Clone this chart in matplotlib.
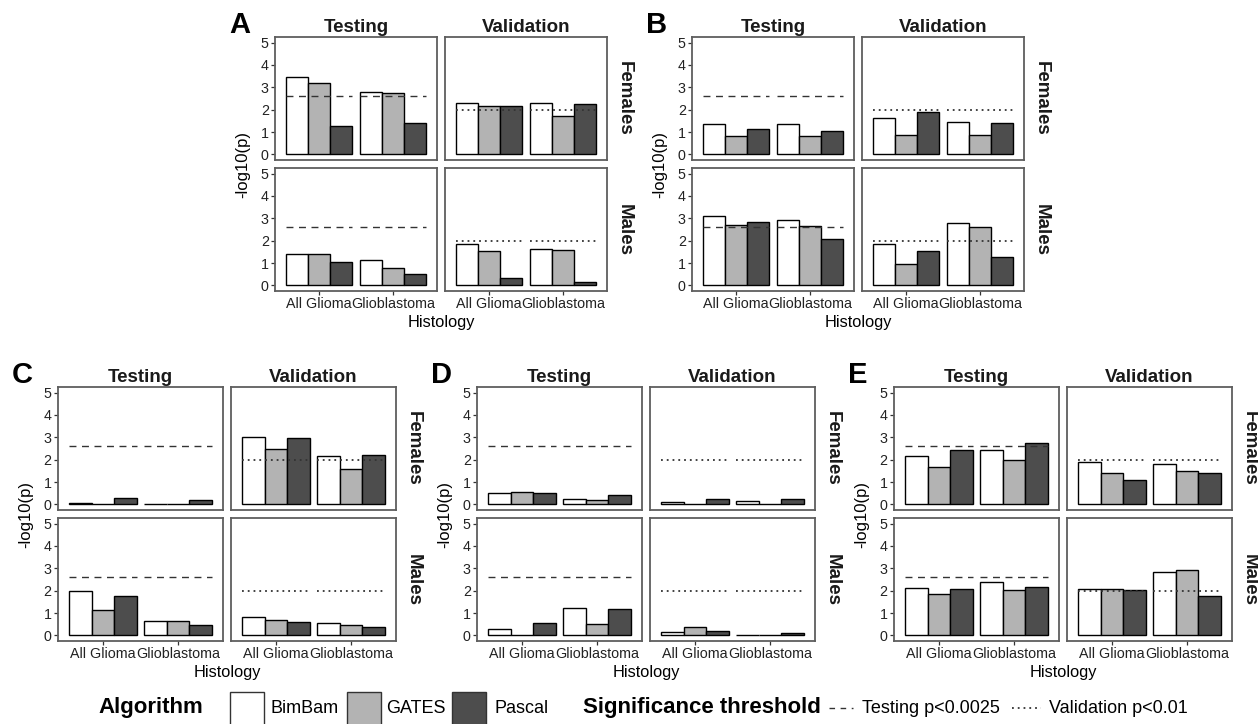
import matplotlib
matplotlib.use("Agg")
import matplotlib.pyplot as plt
from matplotlib.patches import Rectangle
from matplotlib.lines import Line2D
import numpy as np

plt.rcParams["font.family"] = ["Liberation Sans", "DejaVu Sans"]

# ---------------------------------------------------------------------------
# data
# ---------------------------------------------------------------------------
algorithms = ["BimBam", "GATES", "Pascal"]
alg_colors = ["#ffffff", "#b3b3b3", "#4d4d4d"]
histology = ["All Glioma", "Glioblastoma"]
data_sets = ["Testing", "Validation"]
sexes = ["Females", "Males"]
p_cut = {"Testing": 0.0025, "Validation": 0.01}

# -log10(p); rows = Females, Males; cols = Testing, Validation
# each list: All Glioma (BimBam, GATES, Pascal), Glioblastoma (BimBam, GATES, Pascal)
panel_A = [[[3.48, 3.21, 1.27, 2.81, 2.76, 1.39], [2.28, 2.16, 2.18, 2.28, 1.72, 2.27]],
           [[1.42, 1.42, 1.06, 1.12, 0.79, 0.52], [1.85, 1.52, 0.33, 1.61, 1.57, 0.15]]]
panel_B = [[[1.34, 0.82, 1.13, 1.34, 0.82, 1.03], [1.64, 0.88, 1.91, 1.43, 0.88, 1.39]],
           [[3.12, 2.70, 2.82, 2.91, 2.67, 2.09], [1.84, 0.97, 1.52, 2.79, 2.63, 1.25]]]
panel_C = [[[0.07, 0.02, 0.27, 0.02, 0.02, 0.20], [3.00, 2.49, 2.99, 2.15, 1.60, 2.22]],
           [[2.00, 1.13, 1.78, 0.64, 0.64, 0.46], [0.84, 0.70, 0.58, 0.57, 0.48, 0.39]]]
panel_D = [[[0.51, 0.57, 0.52, 0.22, 0.19, 0.42], [0.13, 0.02, 0.22, 0.16, 0.02, 0.25]],
           [[0.30, 0.02, 0.55, 1.22, 0.51, 1.16], [0.16, 0.37, 0.21, 0.03, 0.03, 0.12]]]
panel_E = [[[2.16, 1.69, 2.43, 2.45, 2.00, 2.75], [1.91, 1.40, 1.10, 1.79, 1.51, 1.40]],
           [[2.10, 1.84, 2.09, 2.40, 2.01, 2.15], [2.06, 2.06, 2.01, 2.84, 2.93, 1.76]]]

panels = {"A": panel_A, "B": panel_B, "C": panel_C, "D": panel_D, "E": panel_E}

# ---------------------------------------------------------------------------
# layout (pixels)
# ---------------------------------------------------------------------------
W, H = 1258, 724
# letter -> (left of first facet, top of first facet, facet width)
layout = {"A": (275, 37, 162), "B": (692, 37, 162),
          "C": (58, 387, 165), "D": (477, 387, 165), "E": (894, 387, 165)}
FH = 123     # facet height
GAP = 8      # gap between facets

TXT = "#222222"
BORDER = "#5e5e5e"

fig = plt.figure(figsize=(W / 100, H / 100), dpi=100)


def fx(x):
    return x / W


def fy(y):
    return 1 - y / H


def add_px_axes(x0, y0, w, h):
    return fig.add_axes([fx(x0), fy(y0 + h), w / W, h / H])


def draw_facet(ax, vals, set_name, left_col, bottom_row):
    centers = np.arange(1, len(histology) + 1)
    bw = 0.9 / len(algorithms)
    for a, alg in enumerate(algorithms):
        heights = [vals[g * len(algorithms) + a] for g in range(len(histology))]
        ax.bar(centers + (a - 1) * bw, heights, width=bw, color=alg_colors[a],
               edgecolor="black", linewidth=1.0, zorder=2)
    thr = -np.log10(p_cut[set_name])
    ls = (0, (5, 4)) if set_name == "Testing" else (0, (1, 2.2))
    lw = 1.0 if set_name == "Testing" else 1.3
    for cx in centers:
        ax.plot([cx - 0.45, cx + 0.45], [thr, thr], color="#333333",
                linestyle=ls, linewidth=lw, zorder=3)
    ax.set_xlim(0.4, 2.6)
    ax.set_ylim(-0.25, 5.25)
    for sp in ax.spines.values():
        sp.set_color(BORDER)
        sp.set_linewidth(1.3)
    ax.set_yticks(range(6))
    ax.set_xticks(centers)
    ax.tick_params(axis="both", length=3, width=0.9, color="#333333",
                   labelcolor=TXT, labelsize=10.3, pad=1.5)
    if left_col:
        ax.set_yticklabels([str(v) for v in range(6)])
    else:
        ax.tick_params(axis="y", left=False, labelleft=False)
    if bottom_row:
        ax.set_xticklabels(histology)
    else:
        ax.tick_params(axis="x", bottom=False, labelbottom=False)


for letter, vals in panels.items():
    x0, y0, fw = layout[letter]
    for r, sex in enumerate(sexes):
        for c, set_name in enumerate(data_sets):
            ax = add_px_axes(x0 + c * (fw + GAP), y0 + r * (FH + GAP), fw, FH)
            draw_facet(ax, vals[r][c], set_name, c == 0, r == len(sexes) - 1)
    # column strips
    for c, set_name in enumerate(data_sets):
        cx = x0 + c * (fw + GAP) + fw / 2
        fig.text(fx(cx), fy(y0 - 5), set_name, ha="center", va="baseline",
                 fontsize=13.5, fontweight="bold", color="#1a1a1a")
    # row strips
    right = x0 + 2 * fw + GAP
    for r, sex in enumerate(sexes):
        cy = y0 + r * (FH + GAP) + FH / 2
        fig.text(fx(right + 17), fy(cy), sex, ha="center", va="center",
                 rotation=270, fontsize=13.5, fontweight="bold", color="#1a1a1a")
    # panel letter
    fig.text(fx(x0 - 46), fy(y0 - 4), letter, ha="left", va="baseline",
             fontsize=21, fontweight="bold", color="black")
    # axis titles
    fig.text(fx(x0 - 32), fy(y0 + FH + GAP / 2), "-log10(p)", ha="center",
             va="center", rotation=90, fontsize=12, color="black")
    fig.text(fx(x0 + fw + GAP / 2), fy(y0 + 2 * FH + GAP + 36), "Histology",
             ha="center", va="baseline", fontsize=11.8, color="black")

# ---------------------------------------------------------------------------
# legend
# ---------------------------------------------------------------------------
LB = 713   # legend baseline
fig.text(fx(98), fy(LB), "Algorithm", ha="left", va="baseline",
         fontsize=16, fontweight="bold", color="black")
key_x = [230, 347, 452]
lab_x = [270, 386, 494]
for kx, lx, alg, col in zip(key_x, lab_x, algorithms, alg_colors):
    fig.add_artist(Rectangle((fx(kx), fy(732)), 34 / W, 40 / H,
                             transform=fig.transFigure, facecolor=col,
                             edgecolor="#333333", linewidth=1.0))
    fig.text(fx(lx), fy(LB), alg, ha="left", va="baseline", fontsize=13,
             color="black")

fig.text(fx(583), fy(LB), "Significance threshold", ha="left", va="baseline",
         fontsize=16, fontweight="bold", color="black")
fig.add_artist(Line2D([fx(829), fx(853)], [fy(708), fy(708)],
                      transform=fig.transFigure, color="#333333",
                      linewidth=1.0, linestyle=(0, (4, 4))))
fig.text(fx(862), fy(LB), "Testing p<0.0025", ha="left", va="baseline",
         fontsize=13, color="black")
fig.add_artist(Line2D([fx(1012), fx(1041)], [fy(708), fy(708)],
                      transform=fig.transFigure, color="#333333",
                      linewidth=1.3, linestyle=(0, (1, 2.2))))
fig.text(fx(1049), fy(LB), "Validation p<0.01", ha="left", va="baseline",
         fontsize=13, color="black")

fig.savefig("out.png", dpi=100, facecolor="white")
